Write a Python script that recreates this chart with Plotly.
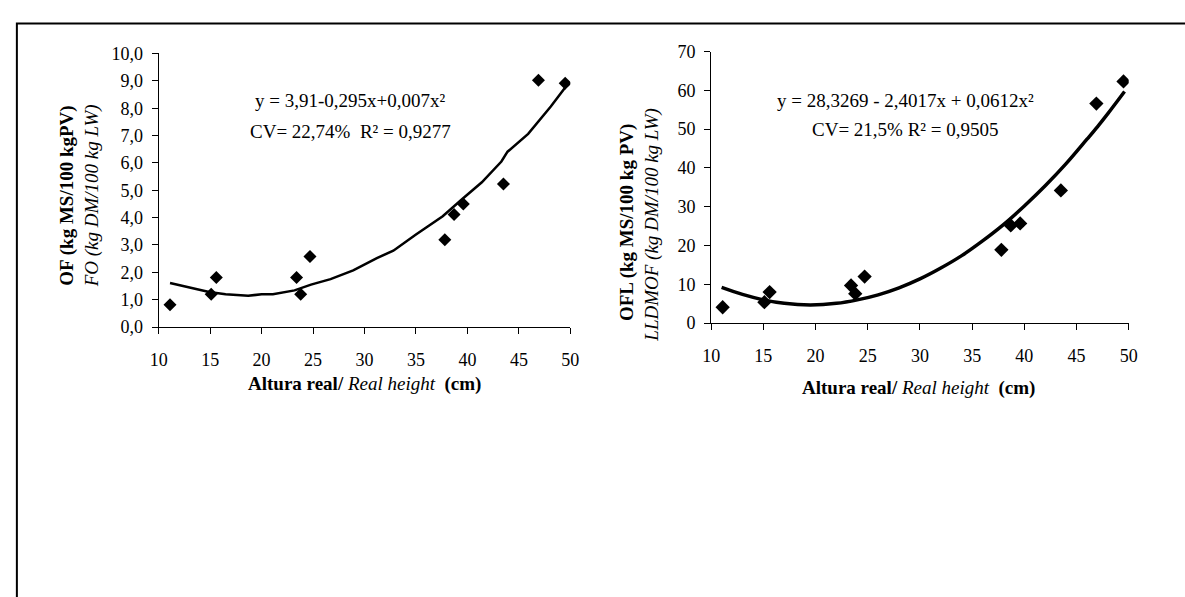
import plotly.graph_objects as go

# ---- data ----
height_cm = [11.1, 15.1, 15.6, 23.4, 23.8, 24.7, 37.8, 38.7, 39.6, 43.5, 46.9, 49.5]
of_values = [0.81, 1.20, 1.81, 1.81, 1.20, 2.58, 3.19, 4.11, 4.50, 5.23, 9.02, 8.91]
ofl_values = [4.1, 5.4, 8.0, 9.7, 7.6, 12.0, 18.9, 25.2, 25.7, 34.2, 56.6, 62.3]

of_fit_x = [11.1, 14.9, 16.5, 18.7, 20.0, 21.1, 23.2, 24.8, 26.7, 28.9, 31.2, 32.8,
            35.0, 37.6, 39.5, 41.4, 43.3, 43.9, 45.9, 48.1, 49.5]
of_fit_y = [1.61, 1.28, 1.20, 1.14, 1.20, 1.20, 1.34, 1.55, 1.75, 2.07, 2.52, 2.79,
            3.38, 4.05, 4.68, 5.29, 6.05, 6.41, 7.06, 8.06, 8.76]

ofl_fit_x = [11.0, 13.0, 15.0, 17.0, 19.5, 22.0, 24.0, 26.0, 28.0, 30.0, 32.0, 34.0,
             36.0, 38.0, 40.0, 42.0, 44.0, 46.0, 47.0, 48.0, 49.6]
ofl_fit_y = [9.2, 7.4, 6.0, 5.1, 4.7, 5.1, 6.0, 7.3, 9.1, 11.4, 14.2, 17.4,
             21.2, 25.4, 30.2, 35.4, 41.1, 47.4, 50.6, 54.0, 59.7]

x_ticks = [10, 15, 20, 25, 30, 35, 40, 45, 50]
of_ticks = [0, 1, 2, 3, 4, 5, 6, 7, 8, 9, 10]
of_tick_text = ["0,0", "1,0", "2,0", "3,0", "4,0", "5,0", "6,0", "7,0", "8,0", "9,0", "10,0"]
ofl_ticks = [0, 10, 20, 30, 40, 50, 60, 70]

eq_left = "y = 3,91-0,295x+0,007x²"
stat_left = "CV= 22,74%  R² = 0,9277"
eq_right = "y = 28,3269 - 2,4017x + 0,0612x²"
stat_right = "CV= 21,5% R² = 0,9505"

FONT = "Liberation Serif, Times New Roman, serif"
W, H = 1185, 597

def px(x):
    return x / W

def py(y):
    return 1 - y / H

fig = go.Figure()

fig.add_trace(go.Scatter(x=of_fit_x, y=of_fit_y, mode="lines",
                         line=dict(color="black", width=2.5), xaxis="x", yaxis="y",
                         showlegend=False, hoverinfo="skip"))
fig.add_trace(go.Scatter(x=height_cm, y=of_values, mode="markers",
                         marker=dict(symbol="diamond", size=10, color="black"),
                         xaxis="x", yaxis="y", showlegend=False))
fig.add_trace(go.Scatter(x=ofl_fit_x, y=ofl_fit_y, mode="lines",
                         line=dict(color="black", width=3.5, shape="spline"),
                         xaxis="x2", yaxis="y2", showlegend=False, hoverinfo="skip"))
fig.add_trace(go.Scatter(x=height_cm, y=ofl_values, mode="markers",
                         marker=dict(symbol="diamond", size=11, color="black"),
                         xaxis="x2", yaxis="y2", showlegend=False))

axis_common = dict(showgrid=False, zeroline=False, showline=True, linecolor="black",
                   linewidth=1, ticks="outside", ticklen=6, tickcolor="black",
                   tickfont=dict(family=FONT, size=18, color="black"))

fig.update_layout(
    width=W, height=H,
    margin=dict(l=0, r=0, t=0, b=0),
    paper_bgcolor="white", plot_bgcolor="white",
    font=dict(family=FONT, color="black"),
    xaxis=dict(domain=[px(152), px(570)], range=[10, 50], tickvals=x_ticks,
               anchor="y", ticklabelstandoff=10, **axis_common),
    yaxis=dict(domain=[py(328), py(45)], range=[0, 10], tickvals=of_ticks,
               ticktext=of_tick_text, anchor="x", ticklabelstandoff=5, **axis_common),
    xaxis2=dict(domain=[px(713), px(1137)], range=[10, 50], tickvals=x_ticks,
                anchor="y2", ticklabelstandoff=10, **axis_common),
    yaxis2=dict(domain=[py(324), py(43)], range=[0, 70], tickvals=ofl_ticks,
                anchor="x2", ticklabelstandoff=5, **axis_common),
)

ann = []
def add(text, x, y, size=19, angle=0, weight="normal", style="normal"):
    ann.append(dict(text=text, x=px(x), y=py(y), xref="paper", yref="paper",
                    showarrow=False, xanchor="center", yanchor="middle",
                    textangle=angle,
                    font=dict(family=FONT, size=size, color="black",
                              weight=weight, style=style)))

add(eq_left, 347, 94)
add(stat_left, 347, 126)
add(eq_right, 910, 94)
add(stat_right, 910, 124)

add("OF (kg MS/100 kgPV)", 58, 192, angle=-90, weight="bold")
add("FO (kg DM/100 kg LW)", 84, 192, angle=-90, style="italic")
add("OFL (kg MS/100 kg PV)", 627, 220, angle=-90, weight="bold")
add("LLDMOF (kg DM/100 kg LW)", 652, 222, angle=-90, style="italic")

xt = "<b>Altura real/</b> <i>Real height</i> &nbsp;<b>(cm)</b>"
add(xt, 361, 387)
add(xt, 924, 391)

fig.update_layout(annotations=ann)

fig.add_shape(type="rect", xref="paper", yref="paper",
              x0=px(8), x1=1.02, y0=-0.02, y1=py(14),
              line=dict(color="black", width=2), fillcolor="rgba(0,0,0,0)")

fig.write_html("out.html")
